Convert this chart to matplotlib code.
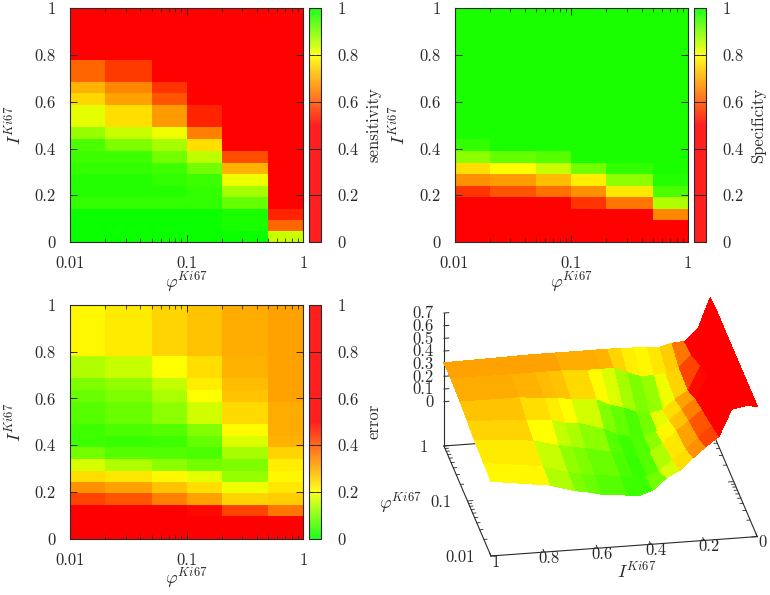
import numpy as np
import matplotlib
matplotlib.use("Agg")
import matplotlib.pyplot as plt
from matplotlib.colors import LinearSegmentedColormap
from matplotlib.ticker import FixedLocator, NullFormatter

plt.rcParams['font.family'] = ['cmr10', 'DejaVu Serif']
plt.rcParams['mathtext.fontset'] = 'cm'
plt.rcParams['axes.unicode_minus'] = False
plt.rcParams['axes.formatter.use_mathtext'] = True

# grid
phi_edges = [0.01, 0.02, 0.05, 0.1, 0.2, 0.5, 1]
i_edges = [1, 0.78, 0.686, 0.636, 0.586, 0.49, 0.44, 0.39, 0.34, 0.29, 0.24, 0.193, 0.143, 0.096, 0.046, 0]

# rows from I=1 down to I=0, columns phi=0.01 .. 1
sensitivity = [
    [0.50, 0.50, 0.50, 0.50, 0.50, 0.50],
    [0.62, 0.57, 0.50, 0.50, 0.50, 0.50],
    [0.71, 0.66, 0.56, 0.50, 0.50, 0.50],
    [0.75, 0.69, 0.60, 0.50, 0.50, 0.50],
    [0.82, 0.76, 0.68, 0.54, 0.50, 0.50],
    [0.88, 0.84, 0.81, 0.65, 0.50, 0.50],
    [0.94, 0.90, 0.87, 0.76, 0.50, 0.50],
    [0.95, 0.95, 0.91, 0.85, 0.59, 0.50],
    [0.96, 0.96, 0.95, 0.91, 0.71, 0.50],
    [0.97, 0.97, 0.96, 0.95, 0.81, 0.50],
    [0.97, 0.97, 0.97, 0.96, 0.87, 0.50],
    [0.96, 0.96, 0.96, 0.96, 0.92, 0.50],
    [0.99, 0.99, 0.99, 0.99, 0.98, 0.54],
    [0.99, 0.99, 0.99, 0.99, 0.98, 0.62],
    [0.99, 0.99, 0.99, 0.99, 0.99, 0.84],
]
specificity = [
    [0.98, 0.98, 0.98, 0.98, 0.98, 0.98],
    [0.98, 0.98, 0.98, 0.98, 0.98, 0.98],
    [0.98, 0.98, 0.98, 0.98, 0.98, 0.98],
    [0.98, 0.98, 0.98, 0.98, 0.98, 0.98],
    [0.98, 0.98, 0.98, 0.98, 0.98, 0.98],
    [0.98, 0.98, 0.98, 0.98, 0.98, 0.98],
    [0.96, 0.98, 0.98, 0.98, 0.98, 0.98],
    [0.89, 0.92, 0.93, 0.98, 0.98, 0.98],
    [0.76, 0.80, 0.84, 0.91, 0.96, 0.98],
    [0.67, 0.68, 0.72, 0.78, 0.89, 0.97],
    [0.56, 0.60, 0.63, 0.67, 0.77, 0.94],
    [0.50, 0.50, 0.50, 0.56, 0.64, 0.86],
    [0.50, 0.50, 0.50, 0.50, 0.50, 0.66],
    [0.50, 0.50, 0.50, 0.50, 0.50, 0.50],
    [0.50, 0.50, 0.50, 0.50, 0.50, 0.50],
]
error = [
    [0.21, 0.225, 0.25, 0.27, 0.30, 0.31],
    [0.14, 0.16, 0.20, 0.24, 0.29, 0.31],
    [0.10, 0.115, 0.155, 0.22, 0.28, 0.31],
    [0.085, 0.10, 0.135, 0.20, 0.27, 0.31],
    [0.07, 0.085, 0.11, 0.165, 0.245, 0.30],
    [0.05, 0.06, 0.07, 0.105, 0.205, 0.30],
    [0.05, 0.045, 0.05, 0.08, 0.175, 0.29],
    [0.09, 0.07, 0.065, 0.06, 0.13, 0.25],
    [0.17, 0.14, 0.11, 0.09, 0.10, 0.22],
    [0.24, 0.23, 0.21, 0.18, 0.12, 0.21],
    [0.33, 0.31, 0.27, 0.24, 0.19, 0.23],
    [0.42, 0.40, 0.35, 0.31, 0.25, 0.26],
    [0.52, 0.52, 0.51, 0.49, 0.42, 0.36],
    [0.60, 0.60, 0.60, 0.58, 0.55, 0.53],
    [0.68, 0.68, 0.68, 0.68, 0.68, 0.68],
]

# surface heights at the grid nodes, I=1 down to I=0
error_nodes = [
    [0.24, 0.25, 0.26, 0.28, 0.30, 0.31, 0.307],
    [0.176, 0.19, 0.22, 0.25, 0.30, 0.31, 0.315],
    [0.118, 0.13, 0.17, 0.24, 0.28, 0.31, 0.32],
    [0.10, 0.11, 0.15, 0.21, 0.27, 0.31, 0.32],
    [0.075, 0.09, 0.13, 0.20, 0.26, 0.31, 0.32],
    [0.053, 0.07, 0.09, 0.14, 0.24, 0.30, 0.32],
    [0.045, 0.05, 0.06, 0.09, 0.19, 0.30, 0.32],
    [0.08, 0.05, 0.05, 0.06, 0.16, 0.30, 0.32],
    [0.168, 0.09, 0.07, 0.06, 0.12, 0.26, 0.32],
    [0.22, 0.17, 0.13, 0.09, 0.10, 0.22, 0.315],
    [0.31, 0.25, 0.22, 0.17, 0.12, 0.22, 0.31],
    [0.39, 0.33, 0.29, 0.25, 0.20, 0.23, 0.305],
    [0.465, 0.42, 0.37, 0.33, 0.26, 0.27, 0.33],
    [0.67, 0.60, 0.55, 0.50, 0.45, 0.36, 0.337],
    [0.69, 0.66, 0.63, 0.60, 0.57, 0.50, 0.43],
    [0.68, 0.68, 0.68, 0.68, 0.68, 0.68, 0.67],
]

# palettes
up = LinearSegmentedColormap.from_list('up', [(0, 'red'), (0.5, 'red'), (0.8, 'yellow'), (1, 'lime')])
down = LinearSegmentedColormap.from_list('down', [(0, 'lime'), (0.2, 'yellow'), (0.5, 'red'), (1, 'red')])

W, H = 770, 595
ink = '#2a2a2a'
fig = plt.figure(figsize=(W / 100, H / 100), dpi=100)


def px_axes(x0, y0, x1, y1, **kw):
    return fig.add_axes([x0 / W, 1 - y1 / H, (x1 - x0) / W, (y1 - y0) / H], **kw)


def heatmap(box, cbox, values, cmap, label):
    ax = px_axes(*box)
    mesh = ax.pcolormesh(phi_edges, i_edges, np.array(values), cmap=cmap, vmin=0, vmax=1,
                         linewidth=0, rasterized=True)
    ax.set_xscale('log')
    ax.set_xlim(0.01, 1)
    ax.set_ylim(0, 1)
    ax.xaxis.set_major_locator(FixedLocator([0.01, 0.1, 1]))
    ax.set_xticklabels(['0.01', '0.1', '1'])
    ax.xaxis.set_minor_locator(FixedLocator([k * d for d in (0.01, 0.1) for k in range(2, 10)]))
    ax.xaxis.set_minor_formatter(NullFormatter())
    ax.set_yticks([0, 0.2, 0.4, 0.6, 0.8, 1])
    ax.set_yticklabels(['0', '0.2', '0.4', '0.6', '0.8', '1'])
    ax.tick_params(which='major', direction='in', top=True, right=True, length=5, width=0.7,
                   labelsize=12, colors=ink)
    ax.tick_params(axis='x', which='major', pad=10)
    ax.tick_params(axis='y', which='major', pad=10)
    ax.tick_params(which='minor', direction='in', top=True, bottom=True, length=3, width=0.6, colors=ink)
    ax.set_xlabel(r'$\varphi^{Ki67}$', fontsize=13, color=ink, labelpad=-1)
    ax.set_ylabel(r'$I^{Ki67}$', fontsize=13, color=ink, labelpad=8)
    for s in ax.spines.values():
        s.set_linewidth(0.8)
        s.set_color(ink)

    cax = px_axes(*cbox)
    cb = fig.colorbar(mesh, cax=cax)
    cb.solids.set_alpha(0.88)
    cb.set_ticks([0, 0.2, 0.4, 0.6, 0.8, 1])
    cb.set_ticklabels(['0', '0.2', '0.4', '0.6', '0.8', '1'])
    cax.tick_params(direction='in', left=True, right=True, length=4, width=0.7,
                    labelsize=12, colors=ink, pad=12)
    cb.outline.set_linewidth(0.8)
    cb.outline.set_edgecolor(ink)
    cb.set_label(label, fontsize=12, color=ink, labelpad=5)


heatmap((70, 8.3, 303.3, 242), (309, 8.3, 321, 242), sensitivity, up, 'sensitivity')
heatmap((454.5, 8.3, 688, 242), (693.7, 8.3, 705.7, 242), specificity, up, 'Specificity')
heatmap((70, 305, 303.3, 538.5), (309, 305, 321, 538.5), error, down, 'error')

# 3d panel
ax3 = fig.add_axes([0.4727, -0.0734, 0.6, 0.7], projection='3d', computed_zorder=False)
ax3.patch.set_alpha(0)
ax3.set_proj_type('ortho')
ax3.view_init(elev=24.4, azim=-100)
ax3.set_box_aspect((1, 1, 0.54), zoom=0.954)
ax3.set_xticks([])
ax3.set_yticks([])
ax3.set_zticks([])
ax3.set_xlim(1, 0)
ax3.set_ylim(-2, 0)
ax3.set_zlim(-0.35, 0.7)
ax3.set_axis_off()

X, Y = np.meshgrid(np.array(i_edges), np.log10(phi_edges), indexing='ij')
colors3 = down(np.array(error))
ax3.plot_surface(X, Y, np.array(error_nodes), facecolors=colors3, rstride=1, cstride=1,
                 shade=False, linewidth=0, edgecolor='none', antialiased=False, zorder=3)

lw = 0.8
zb = -0.35
# frame
ax3.plot([1, 0], [-2, -2], [zb, zb], color=ink, lw=lw, zorder=1)
ax3.plot([1, 1], [-2, 0], [zb, zb], color=ink, lw=lw, zorder=1)
ax3.plot([0, 0], [-2, 0], [zb, zb], color=ink, lw=lw, zorder=1)
ax3.plot([1, 0], [0, 0], [zb, zb], color=ink, lw=lw, zorder=1)
ax3.plot([1, 1], [0, 0], [zb, 0.7], color=ink, lw=lw, zorder=1)

# ticks drawn in data coordinates
z_ticks = [0, 0.1, 0.2, 0.3, 0.4, 0.5, 0.6, 0.7]
for z in z_ticks:
    ax3.plot([1, 0.982], [0, 0], [z, z], color=ink, lw=0.7, zorder=1)
    ax3.text(1.0376, 0, z, f'{z:g}', fontsize=12, color=ink, ha='right', va='center')
log_ticks = [k * d for d in (0.01, 0.1) for k in range(1, 10)] + [1]
for p in log_ticks:
    d = 0.02 if p in (0.01, 0.1, 1) else 0.012
    yy = np.log10(p)
    ax3.plot([1, 1 - d], [yy, yy], [zb, zb], color=ink, lw=0.6, zorder=1)
    ax3.plot([0, d], [yy, yy], [zb, zb], color=ink, lw=0.6, zorder=1)
for p, t in zip([0, -1, -2], ['1', '0.1', '0.01']):
    ax3.text(1.06, p, zb, t, fontsize=12, color=ink, ha='right', va='center')
for v in [1, 0.8, 0.6, 0.4, 0.2, 0]:
    ax3.plot([v, v], [-2, -1.95], [zb, zb], color=ink, lw=0.7, zorder=1)
    ax3.text(v - 0.009, -2.112, zb, f'{v:g}', fontsize=12, color=ink, ha='center', va='center')
ax3.text(0.4915, -2.458, zb, r'$I^{Ki67}$', fontsize=13, color=ink, ha='center', va='center')
ax3.text(1.247, -0.946, zb, r'$\varphi^{Ki67}$', fontsize=13, color=ink, ha='center', va='center')

fig.savefig('out.png', dpi=100)
